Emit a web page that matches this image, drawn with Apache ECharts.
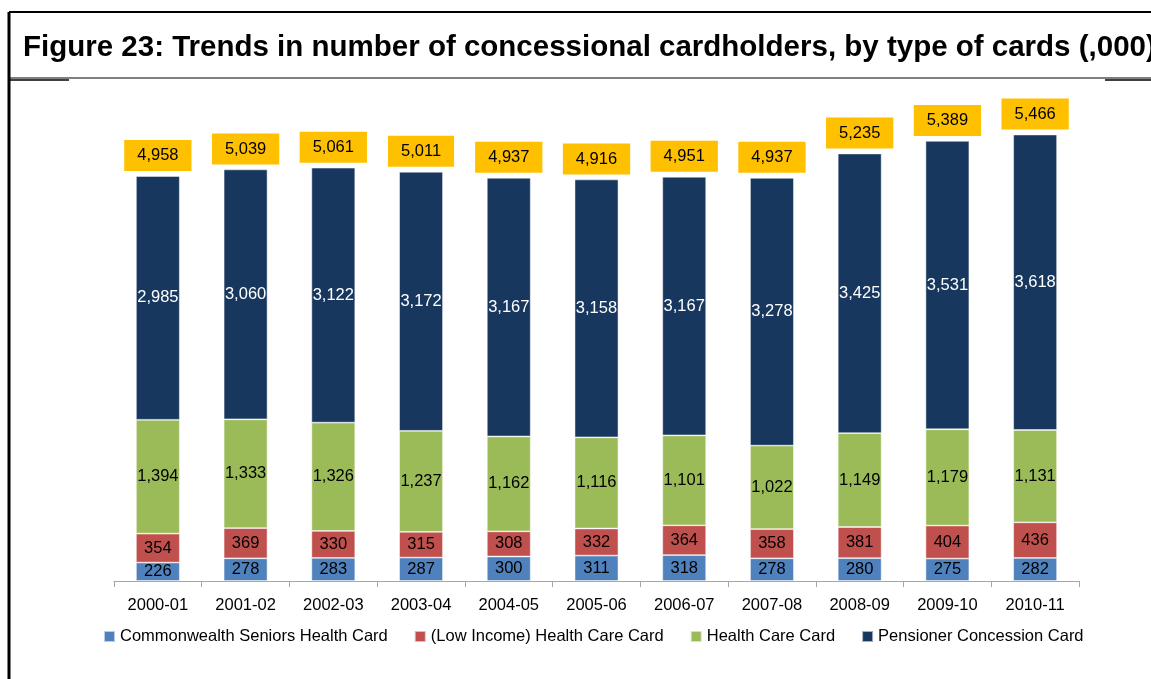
<!DOCTYPE html>
<html><head><meta charset="utf-8">
<script src="https://cdn.jsdelivr.net/npm/echarts@6/dist/echarts.min.js"></script>
<style>html,body{margin:0;padding:0;background:#fff}#c{width:1151px;height:679px}</style>
</head><body><div id="c"></div>
<script>
const categories = ['2000-01','2001-02','2002-03','2003-04','2004-05','2005-06','2006-07','2007-08','2008-09','2009-10','2010-11'];
const seniors = [226,278,283,287,300,311,318,278,280,275,282];
const lowIncome = [354,369,330,315,308,332,364,358,381,404,436];
const healthCare = [1394,1333,1326,1237,1162,1116,1101,1022,1149,1179,1131];
const pensioner = [2985,3060,3122,3172,3167,3158,3167,3278,3425,3531,3618];
const totals = [4958,5039,5061,5011,4937,4916,4951,4937,5235,5389,5466];
const seriesNames = ['Commonwealth Seniors Health Card','(Low Income) Health Care Card','Health Care Card','Pensioner Concession Card'];
const titleText = 'Figure 23: Trends in number of concessional cardholders, by type of cards (,000)';

const FONT = 'Liberation Sans, Arial, sans-serif';
const chart = echarts.init(document.getElementById('c'), null, {renderer:'canvas'});
function fmt(v){ return v.toLocaleString('en-US'); }
function seg(name, data, color, labelColor){
  return {
    name, type:'bar', stack:'all', data, barWidth:'50%',
    itemStyle:{color, borderColor:'rgba(255,255,255,0.6)', borderWidth:0.8},
    label:{show:true, position:'inside', color:labelColor, fontSize:16.5, fontFamily:FONT,
      formatter:p=>fmt(p.value)},
    emphasis:{disabled:true}
  };
}
chart.setOption({
  animation:false,
  textStyle:{fontFamily:FONT},
  grid:{left:114, right:72, top:91, bottom:98},
  xAxis:{type:'category', data:categories,
    axisLine:{lineStyle:{color:'#A6A6A6'}},
    axisTick:{show:true, length:6, lineStyle:{color:'#A6A6A6'}},
    axisLabel:{color:'#000', fontSize:16.5, fontFamily:FONT, margin:16}},
  yAxis:{type:'value', min:0, max:6000, show:false, splitLine:{show:false}},
  legend:{data:seriesNames, bottom:29, left:98, itemWidth:11, itemHeight:11, itemGap:26,
    icon:'rect', textStyle:{fontSize:16.5, color:'#000', fontFamily:FONT}},
  graphic:[
    {type:'line', shape:{x1:9, y1:12, x2:1151, y2:12}, style:{stroke:'#000', lineWidth:2}},
    {type:'line', shape:{x1:9, y1:12, x2:9, y2:679}, style:{stroke:'#000', lineWidth:3}},
    {type:'line', shape:{x1:8, y1:78, x2:1151, y2:78}, style:{stroke:'#000', lineWidth:1.2}},
    {type:'line', shape:{x1:8, y1:80, x2:69, y2:80}, style:{stroke:'#000', lineWidth:1.5}},
    {type:'line', shape:{x1:1105, y1:80, x2:1151, y2:80}, style:{stroke:'#000', lineWidth:1.5}},
    {type:'text', left:23, top:33, style:{text:titleText, fill:'#000', font:'bold 29.5px '+FONT}}
  ],
  series:[
    seg(seriesNames[0], seniors, '#4F81BD', '#000'),
    seg(seriesNames[1], lowIncome, '#C0504D', '#000'),
    seg(seriesNames[2], healthCare, '#9BBB59', '#000'),
    seg(seriesNames[3], pensioner, '#17375E', '#fff'),
    {name:'Total', type:'scatter', data:totals, symbolSize:0, itemStyle:{color:'#17375E', opacity:1},
      label:{show:true, position:'top', distance:5, color:'#000', fontSize:16.5, fontFamily:FONT, opacity:1,
        backgroundColor:'#FFC000', padding:[7,13,7,13], formatter:p=>fmt(p.value)},
      emphasis:{disabled:true}, z:5}
  ]
});
</script></body></html>
